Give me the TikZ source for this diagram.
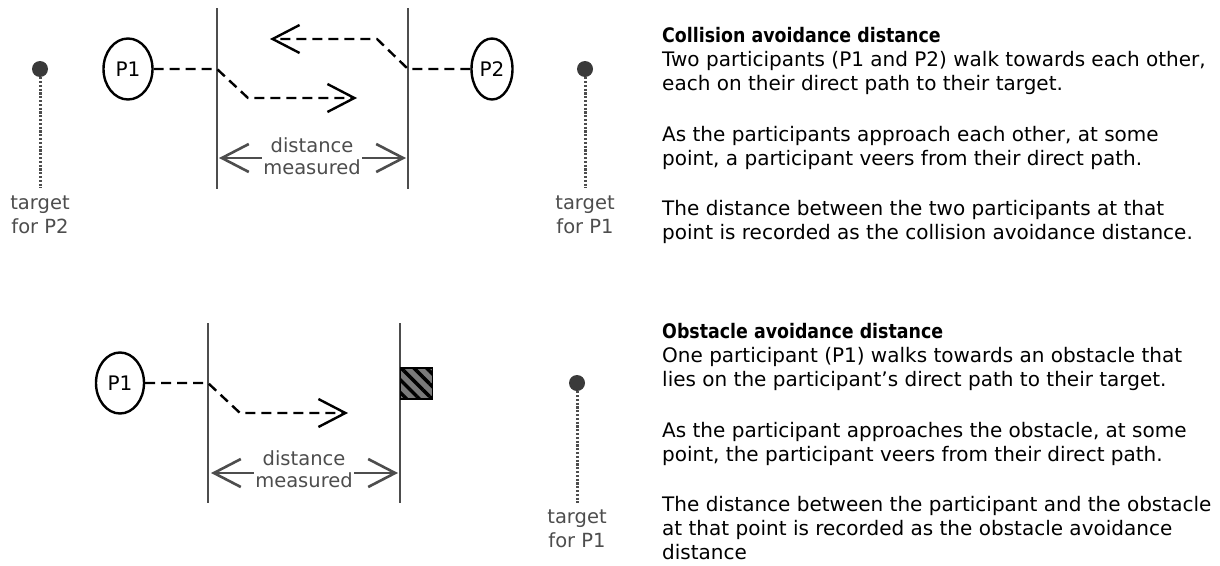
\documentclass[tikz,border=0pt]{standalone}
\usepackage{fontspec}
\setmainfont{DejaVu Sans}
\newfontfamily\titlefont[FakeStretch=0.87]{DejaVu Sans Bold}
\usetikzlibrary{arrows.meta,patterns.meta,shapes.geometric}
\definecolor{ink}{HTML}{000000}
\definecolor{gl}{HTML}{4D4D4D}
\definecolor{dotc}{HTML}{3A3A3A}
\definecolor{obsfill}{HTML}{7A7A7A}
\begin{document}
\begin{tikzpicture}[x=1pt,y=-1pt,
  person/.style={ellipse, draw=ink, line width=2.4pt, minimum height=61pt, inner sep=0pt, font=\fontsize{20}{22}\selectfont, text=ink},
  walk/.style={draw=ink, line width=2.4pt, dash pattern=on 10pt off 6pt, -{Straight Barb[length=27pt,width=28pt,line width=2.4pt]}},
  wall/.style={draw=gl, line width=1.8pt},
  meas/.style={draw=gl, line width=2.6pt, {Straight Barb[length=27pt,width=28pt,line width=2.6pt]}-{Straight Barb[length=27pt,width=28pt,line width=2.6pt]}},
  measlbl/.style={fill=white, inner sep=1pt, align=center, text=gl, font=\fontsize{19.5}{22}\selectfont, anchor=base},
  tgt/.style={circle, fill=dotc, minimum size=16pt, inner sep=0pt},
  tgtline/.style={draw=gl, line width=3pt, dash pattern=on 2.2pt off 1.6pt},
  tgtlbl/.style={align=center, text=gl, font=\fontsize{19.5}{24}\selectfont, inner sep=0pt, anchor=base},
  txt/.style={align=left, text=ink, font=\fontsize{20}{24}\selectfont, inner sep=0pt, anchor=base west},
]
\useasboundingbox (0,0) rectangle (1220,565);

% ---------- top: collision avoidance ----------
\node[tgt] (tA) at (40,69) {};
\coordinate (tAe) at (40,188);
\draw[tgtline] (tA) -- (tAe);
\node[tgtlbl] (tAl) at (40,233) {target\\for P2};

\node[person, minimum width=49pt] (p1) at (128,69) {P1};
\node[person, minimum width=41pt] (p2) at (492,69) {P2};

\coordinate (w1t) at (217,8);  \coordinate (w1b) at (217,189);
\coordinate (w2t) at (408,8);  \coordinate (w2b) at (408,189);
\draw[wall] (w1t) -- (w1b);
\draw[wall] (w2t) -- (w2b);

\coordinate (a1) at (217,69); \coordinate (a2) at (248,98); \coordinate (a3) at (357,98);
\draw[walk] (p1.east) -- (a1) -- (a2) -- (a3);
\coordinate (b1) at (408,69); \coordinate (b2) at (377,39); \coordinate (b3) at (270,39);
\draw[walk] (p2.west) -- (b1) -- (b2) -- (b3);

\coordinate (m1) at (219,158); \coordinate (m2) at (406,158);
\draw[meas] (m1) -- (m2);
\node[measlbl] (ml) at (312,174) {distance\\measured};

\node[tgt] (tB) at (585,69) {};
\coordinate (tBe) at (585,188);
\draw[tgtline] (tB) -- (tBe);
\node[tgtlbl] (tBl) at (585,233) {target\\for P1};

\node[txt] (c1) at (662,90) {{\titlefont Collision avoidance distance}\\Two participants (P1 and P2) walk towards each other,\\each on their direct path to their target.};
\node[txt] (c2) at (662,165) {As the participants approach each other, at some\\point, a participant veers from their direct path.};
\node[txt] (c3) at (662,239) {The distance between the two participants at that\\point is recorded as the collision avoidance distance.};

% ---------- bottom: obstacle avoidance ----------
\node[person, minimum width=48pt] (q1) at (120,383) {P1};

\coordinate (v1t) at (208,323);  \coordinate (v1b) at (208,503);
\coordinate (v2t) at (400,323);  \coordinate (v2b) at (400,503);
\draw[wall] (v1t) -- (v1b);
\draw[wall] (v2t) -- (v2b);

\coordinate (c1a) at (208,383); \coordinate (c2a) at (240,413); \coordinate (c3a) at (348,413);
\draw[walk] (q1.east) -- (c1a) -- (c2a) -- (c3a);

\node[draw=ink, line width=1.6pt, minimum width=32pt, minimum height=31pt, inner sep=0pt,
      preaction={fill=obsfill}, pattern={Lines[angle=-45,distance=9pt,line width=3.5pt]}, pattern color=ink] (obs) at (416.5,383.5) {};

\coordinate (n1) at (211,473); \coordinate (n2) at (398,473);
\draw[meas] (n1) -- (n2);
\node[measlbl] (nl) at (304,487) {distance\\measured};

\node[tgt] (tC) at (577,383) {};
\coordinate (tCe) at (577,503);
\draw[tgtline] (tC) -- (tCe);
\node[tgtlbl] (tCl) at (577,547) {target\\for P1};

\node[txt] (o1) at (662,386) {{\titlefont Obstacle avoidance distance}\\One participant (P1) walks towards an obstacle that\\lies on the participant's direct path to their target.};
\node[txt] (o2) at (662,461) {As the participant approaches the obstacle, at some\\point, the participant veers from their direct path.};
\node[txt] (o3) at (662,559) {The distance between the participant and the obstacle\\at that point is recorded as the obstacle avoidance\\distance};
\end{tikzpicture}
\end{document}
